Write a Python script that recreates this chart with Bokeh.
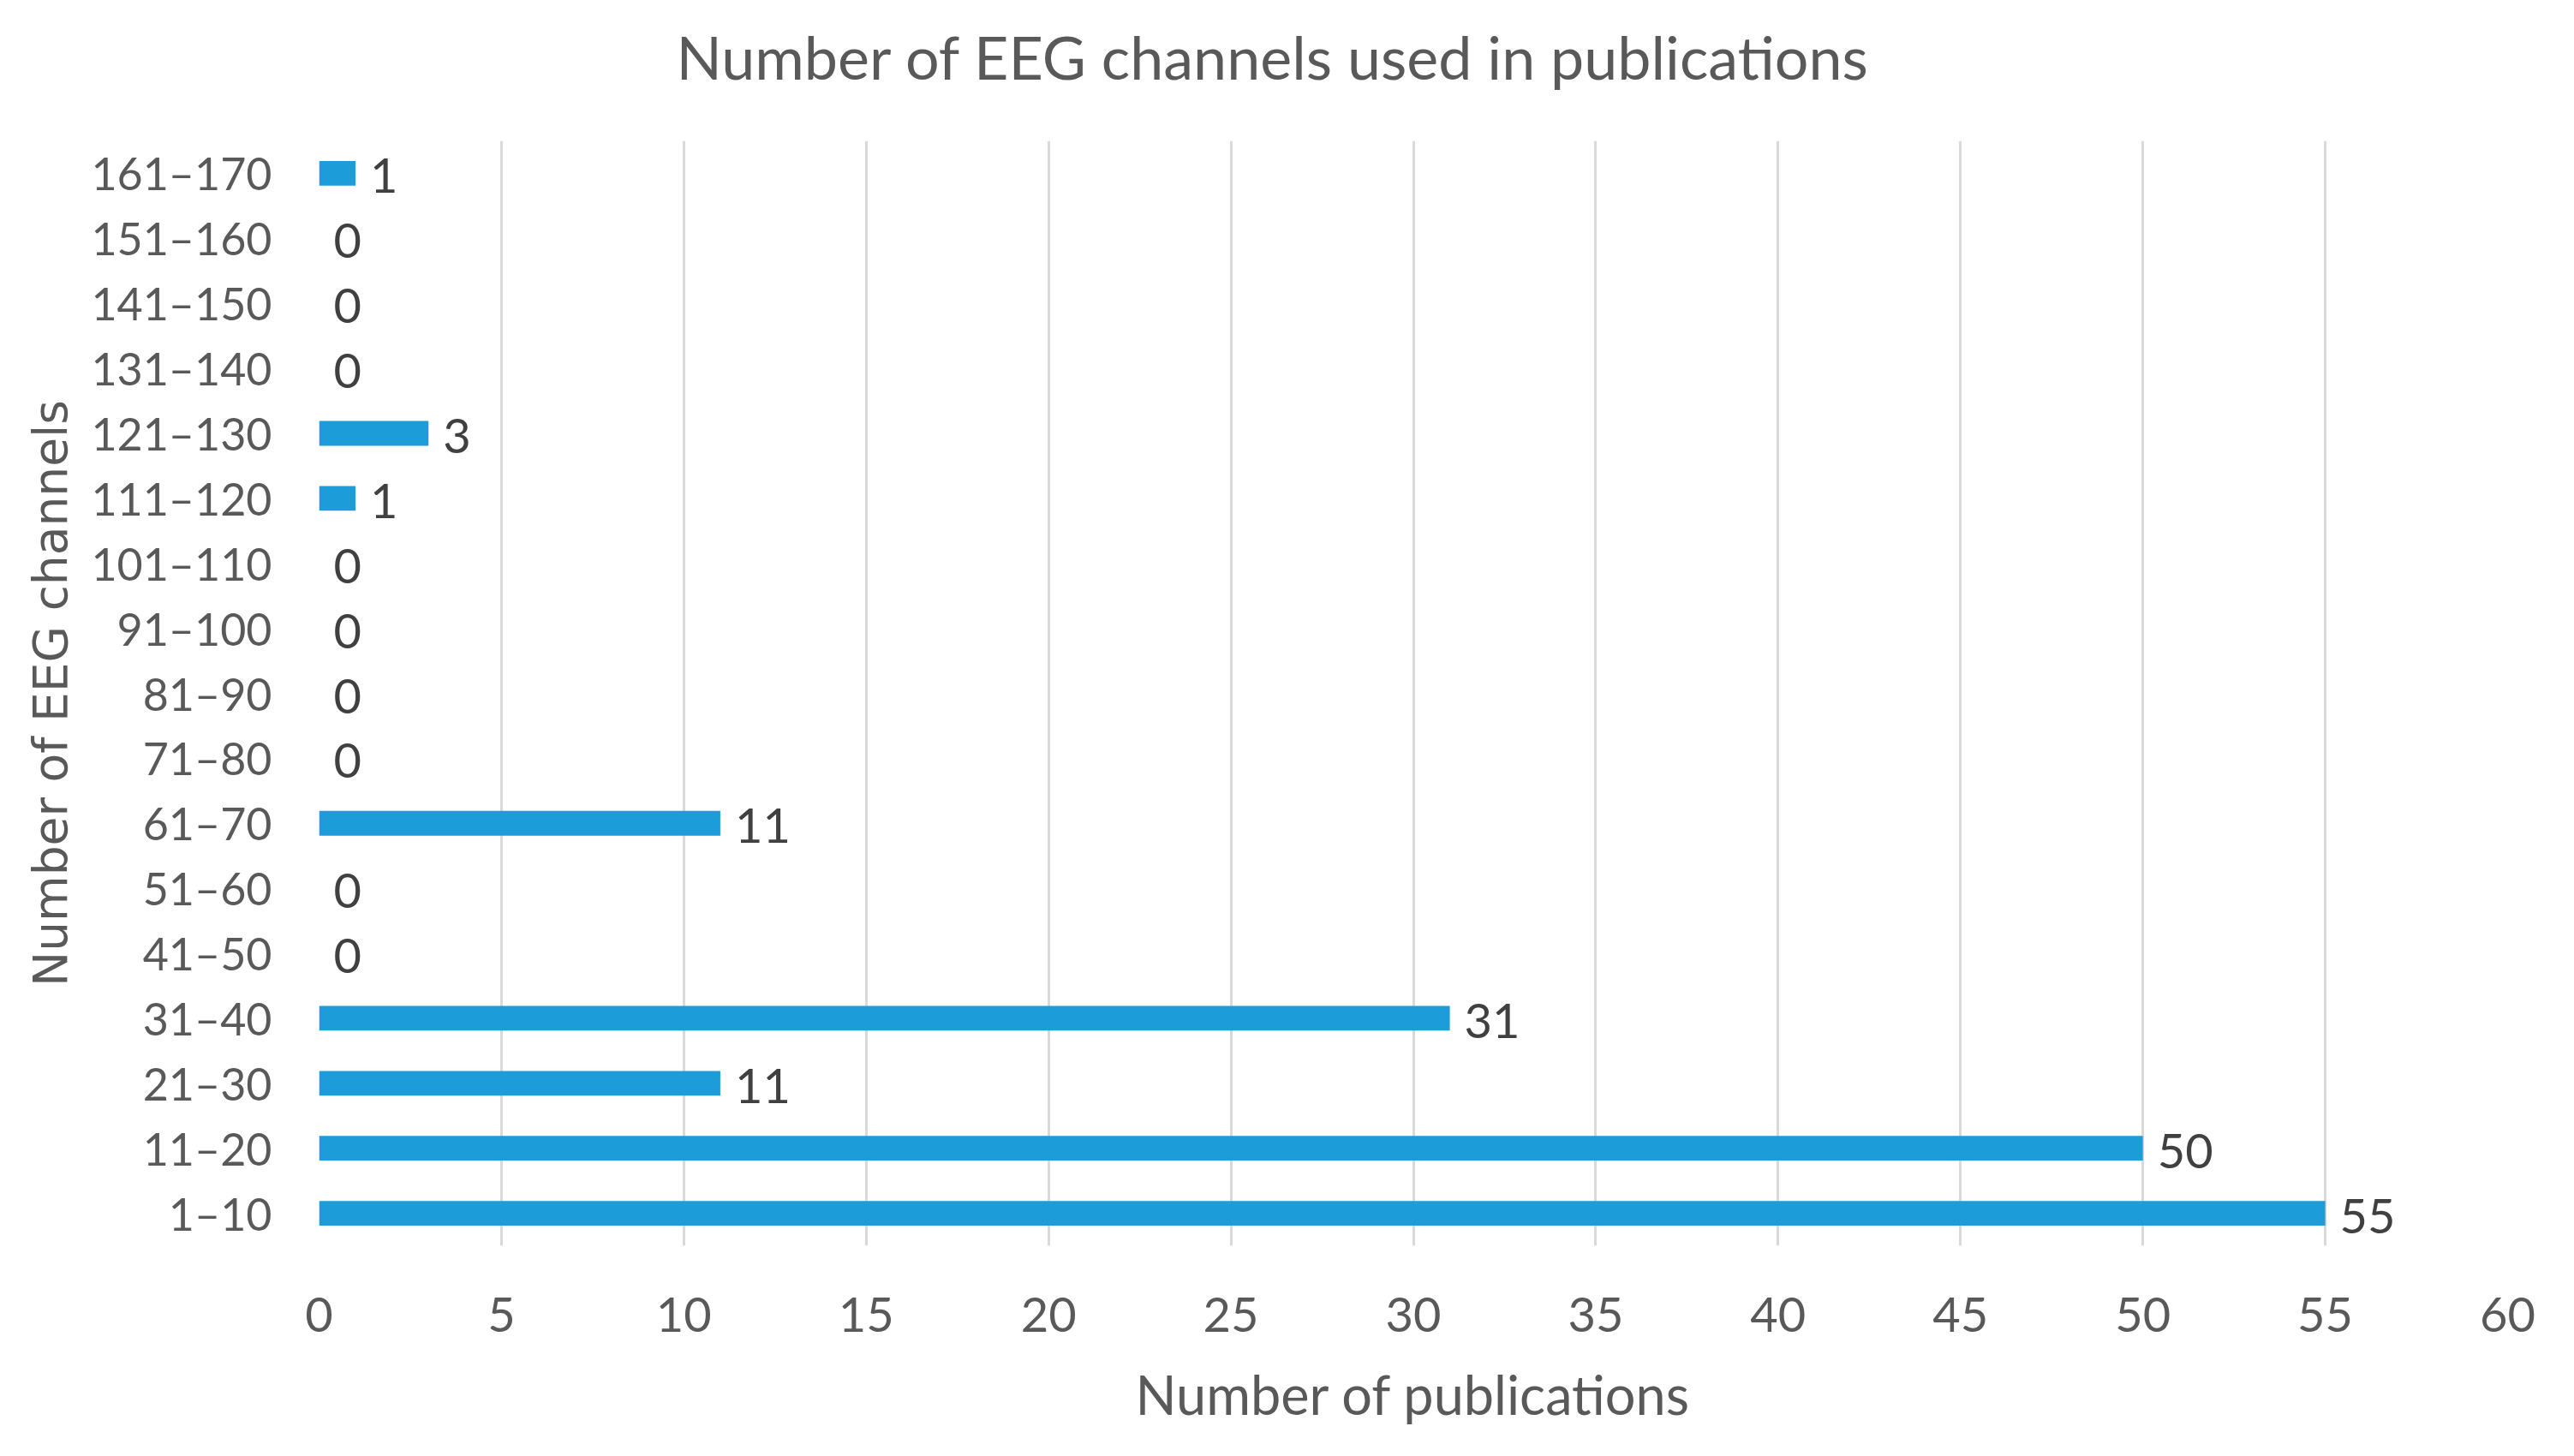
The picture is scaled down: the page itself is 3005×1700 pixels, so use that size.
from bokeh.plotting import figure
from bokeh.layouts import column
from bokeh.models import Range1d, FactorRange, FixedTicker, ColumnDataSource, Label
from bokeh.core.properties import value
from bokeh.embed import file_html
from bokeh.resources import INLINE

categories = ["1\u201310", "11\u201320", "21\u201330", "31\u201340", "41\u201350", "51\u201360",
              "61\u201370", "71\u201380", "81\u201390", "91\u2013100", "101\u2013110", "111\u2013120",
              "121\u2013130", "131\u2013140", "141\u2013150", "151\u2013160", "161\u2013170"]
publications = [55, 50, 11, 31, 0, 0, 11, 0, 0, 0, 0, 1, 3, 0, 0, 0, 1]
x_ticks = [0, 5, 10, 15, 20, 25, 30, 35, 40, 45, 50, 55, 60]
title_text = "Number of EEG channels used in publications"

TXT = "#595959"
FONT = "Lato"
W = 2989
TITLE_H = 130
LEFT = 372
RIGHT = 62

# ---- title strip (its x range is expressed in page pixels) ----
t = figure(width=W, height=TITLE_H, output_backend="svg", toolbar_location=None,
           x_range=Range1d(LEFT, W - RIGHT), y_range=Range1d(0, TITLE_H),
           x_axis_type=None, y_axis_type=None,
           min_border_left=LEFT, min_border_right=RIGHT,
           min_border_top=0, min_border_bottom=0)
t.outline_line_color = None
t.grid.visible = False
t.background_fill_color = "white"
t.border_fill_color = "white"
t.add_layout(Label(x=1486, y=65, text=title_text, text_align="center",
                   text_baseline="alphabetic", text_font=FONT, text_font_size="70px",
                   text_color=TXT))

# ---- main chart ----
src = ColumnDataSource(dict(cat=categories, val=publications,
                            lab=[str(v) for v in publications]))

p = figure(width=W, height=1684 - TITLE_H, output_backend="svg", toolbar_location=None,
           y_range=FactorRange(factors=categories, range_padding=0),
           x_range=Range1d(0, 60),
           min_border_left=LEFT, min_border_right=RIGHT,
           min_border_top=164 - TITLE_H, min_border_bottom=230)

p.background_fill_color = "white"
p.border_fill_color = "white"
p.outline_line_color = None

p.hbar(y="cat", right="val", left=0, height=0.38, source=src,
       fill_color="#1C9CD8", line_color=None)

p.text(x="val", y="cat", text="lab", source=src, x_offset=17, y_offset=3,
       text_baseline="middle", text_align="left", text_color="#404040",
       text_font=value(FONT), text_font_size="56px")

p.ygrid.grid_line_color = None
p.xgrid.grid_line_color = "#D9D9D9"
p.xgrid.grid_line_width = 3
p.xaxis.ticker = FixedTicker(ticks=x_ticks)

for ax in (p.xaxis, p.yaxis):
    ax.axis_line_color = None
    ax.major_tick_line_color = None
    ax.minor_tick_line_color = None
    ax.major_tick_out = 0
    ax.major_tick_in = 0
    ax.major_label_text_color = TXT
    ax.major_label_text_font = FONT
    ax.axis_label_text_color = TXT
    ax.axis_label_text_font_style = "normal"

p.xaxis.major_label_text_font_size = "56px"
p.yaxis.major_label_text_font_size = "52px"
p.xaxis.major_label_standoff = 60
p.yaxis.major_label_standoff = 55
p.xaxis.axis_label = "Number of publications"
p.xaxis.axis_label_text_font = FONT
p.xaxis.axis_label_text_font_size = "63px"
p.xaxis.axis_label_standoff = 32

p.yaxis.axis_label = "Number of EEG channels"
p.yaxis.axis_label_text_font = "DejaVu Sans"
p.yaxis.axis_label_text_font_size = "55px"
p.yaxis.axis_label_standoff = 12

layout = column(t, p, spacing=0)
open("out.html", "w").write(file_html(layout, INLINE))
